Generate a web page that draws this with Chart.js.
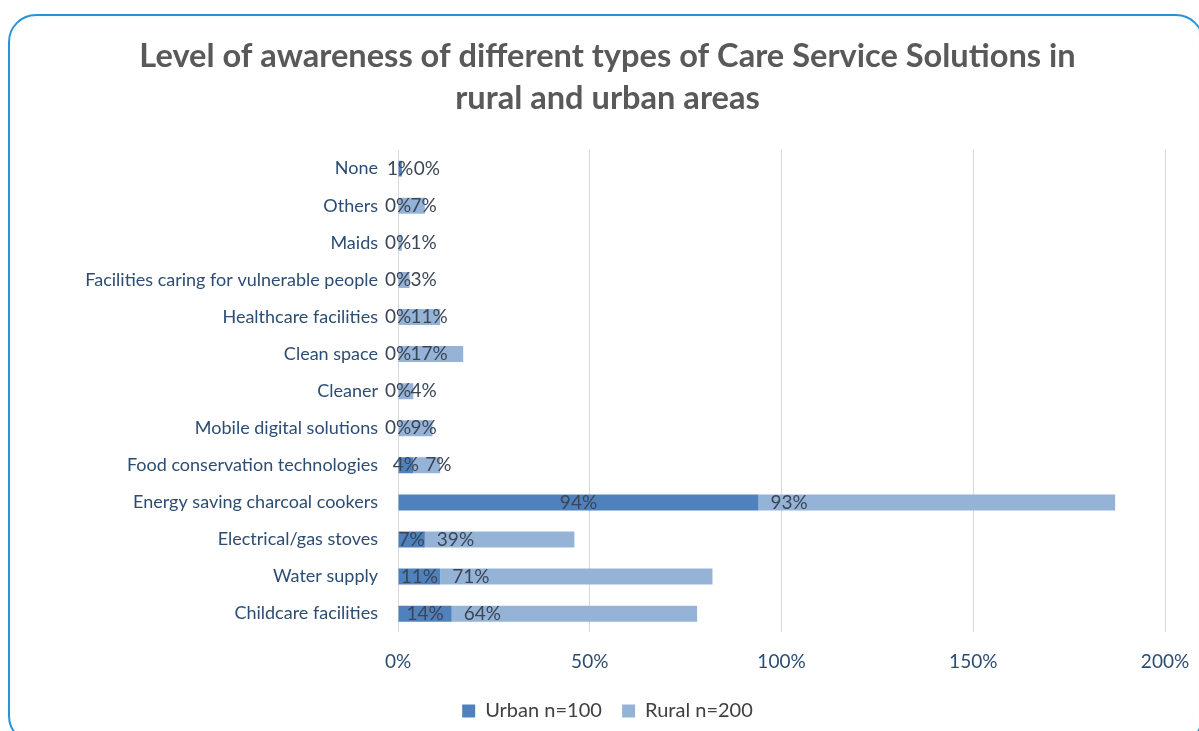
<!DOCTYPE html>
<html>
<head>
<meta charset="utf-8">
<script src="https://cdn.jsdelivr.net/npm/chart.js@4.4.1/dist/chart.umd.min.js"></script>
<style>
  html, body { margin: 0; padding: 0; background: #fff; overflow: hidden; }
  #card {
    position: absolute; left: 8px; top: 14px; width: 1196px; height: 730px;
    border: 2px solid #2a93d5; border-radius: 28px; box-sizing: border-box;
    box-shadow: inset 0 0 6px rgba(42, 147, 213, 0.08);
  }
  #wrap { position: absolute; left: 0; top: 0; width: 1199px; height: 731px; }
</style>
</head>
<body>
<div id="card"></div>
<div id="wrap"><canvas id="chart" width="1199" height="731"></canvas></div>
<script>
const categories = [
  'None', 'Others', 'Maids', 'Facilities caring for vulnerable people',
  'Healthcare facilities', 'Clean space', 'Cleaner', 'Mobile digital solutions',
  'Food conservation technologies', 'Energy saving charcoal cookers',
  'Electrical/gas stoves', 'Water supply', 'Childcare facilities'
];
const urban = [1, 0, 0, 0, 0, 0, 0, 0, 4, 94, 7, 11, 14];
const rural = [0, 7, 1, 3, 11, 17, 4, 9, 7, 93, 39, 71, 64];
const xTicks = [0, 50, 100, 150, 200];

const FONT = 'Lato, "Open Sans", sans-serif';
const labelColor = '#2c4d73';

const valueLabels = {
  id: 'valueLabels',
  afterDatasetsDraw(chart) {
    const ctx = chart.ctx;
    ctx.save();
    ctx.font = '19px ' + FONT;
    ctx.fillStyle = '#3a4656';
    ctx.textBaseline = 'middle';
    chart.data.datasets.forEach((ds, i) => {
      const meta = chart.getDatasetMeta(i);
      meta.data.forEach((bar, j) => {
        const txt = ds.data[j] + '%';
        if (i === 0) {
          ctx.textAlign = 'center';
          ctx.fillText(txt, (bar.x + bar.base) / 2, bar.y);
        } else {
          ctx.textAlign = 'left';
          ctx.fillText(txt, bar.base + 12, bar.y);
        }
      });
    });
    ctx.restore();
  }
};

new Chart(document.getElementById('chart'), {
  type: 'bar',
  data: {
    labels: categories,
    datasets: [
      // trailing spaces widen the gap between the two legend items
      { label: 'Urban n=100  ', data: urban, backgroundColor: '#4f81bd' },
      { label: 'Rural n=200', data: rural, backgroundColor: '#95b3d7' }
    ]
  },
  options: {
    indexAxis: 'y',
    responsive: false,
    animation: false,
    layout: { padding: { left: 50, right: 34, top: 15, bottom: 0 } },
    datasets: { bar: { barPercentage: 0.43, categoryPercentage: 1 } },
    scales: {
      x: {
        stacked: true,
        min: 0, max: 200,
        afterBuildTicks: (scale) => { scale.ticks = xTicks.map((v) => ({ value: v })); },
        afterFit: (scale) => { scale.paddingRight = 0; },
        ticks: {
          callback: (v) => v + '%',
          color: labelColor,
          font: { family: FONT, size: 19 },
          padding: 18
        },
        grid: { color: '#d9d9d9', drawTicks: false },
        border: { display: false }
      },
      y: {
        stacked: true,
        afterFit: (scale) => { scale.width = 348; },
        ticks: {
          color: labelColor,
          font: { family: FONT, size: 18 },
          padding: 20
        },
        grid: { display: false, drawTicks: false },
        border: { display: false }
      }
    },
    plugins: {
      title: {
        display: true,
        text: ['Level of awareness of different types of Care Service Solutions in', 'rural and urban areas'],
        color: '#595959',
        font: { family: FONT, size: 32.6, weight: 'bold', lineHeight: 1.29 },
        padding: { top: 20, bottom: 31 }
      },
      legend: {
        position: 'bottom',
        labels: {
          color: '#404040',
          font: { family: FONT, size: 20 },
          boxWidth: 13, boxHeight: 13,
          padding: 10
        }
      },
      tooltip: { enabled: false }
    }
  },
  plugins: [valueLabels]
});
</script>
</body>
</html>
